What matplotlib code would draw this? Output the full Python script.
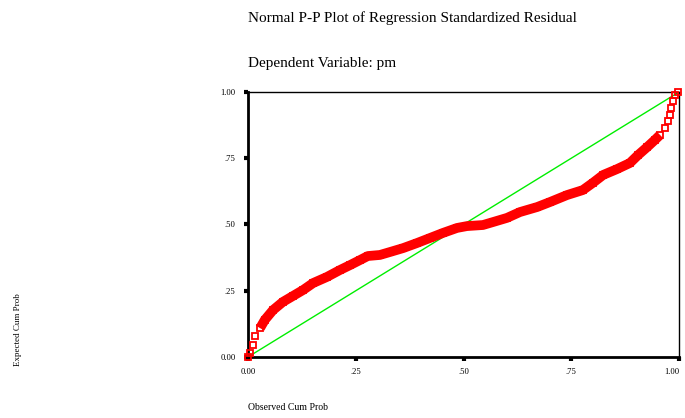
import matplotlib
matplotlib.use("Agg")
import matplotlib.pyplot as plt

# observed vs expected cumulative probabilities
observed = [0.000, 0.005, 0.011, 0.016, 0.028, 0.039, 0.058, 0.081, 0.104, 0.128,
            0.151, 0.183, 0.213, 0.237, 0.260, 0.278, 0.306, 0.329, 0.360, 0.392,
            0.422, 0.452, 0.485, 0.508, 0.545, 0.568, 0.601, 0.631, 0.671, 0.701,
            0.740, 0.777, 0.800, 0.824, 0.856, 0.886, 0.905, 0.926, 0.944, 0.956,
            0.968, 0.974, 0.979, 0.981, 0.986, 0.991, 0.998]
expected = [0.000, 0.015, 0.045, 0.079, 0.109, 0.140, 0.177, 0.208, 0.230, 0.253,
            0.279, 0.302, 0.328, 0.347, 0.366, 0.381, 0.385, 0.396, 0.411, 0.430,
            0.449, 0.468, 0.487, 0.494, 0.498, 0.509, 0.525, 0.547, 0.566, 0.585,
            0.611, 0.630, 0.657, 0.687, 0.709, 0.732, 0.762, 0.792, 0.819, 0.838,
            0.864, 0.891, 0.913, 0.940, 0.966, 0.989, 1.000]

ticks = [0, 0.25, 0.5, 0.75, 1.0]
xlabels = ["0.00", ".25", ".50", ".75", "1.00"]
ylabels = ["0.00", ".25", ".50", ".75", "1.00"]

serif = "Liberation Serif"

fig = plt.figure(figsize=(6.85, 4.18), dpi=100)
ax = fig.add_axes([248 / 685, 61 / 418, 431 / 685, 265 / 418])

# dense middle part looks like a solid band
ax.plot(observed[4:40], expected[4:40], color="red", lw=7, solid_capstyle="butt", zorder=2)
ax.plot(observed, expected, ls="none", marker="s", ms=5, mfc="none", mec="red", mew=1.3,
        clip_on=False, zorder=3)
ax.plot([0, 1], [0, 1], color="#00ee00", lw=1, zorder=1)

ax.set_xlim(0, 1)
ax.set_ylim(0, 1)
ax.set_xticks(ticks)
ax.set_yticks(ticks)
ax.set_xticklabels(xlabels, fontfamily=serif, fontsize=6.2)
ax.set_yticklabels(ylabels, fontfamily=serif, fontsize=6.2)
ax.get_xticklabels()[-1].set_ha("right")
ax.tick_params(direction="out", length=3, width=3, color="black", pad=5)
ax.tick_params(axis="y", pad=6)

for s in ["left", "bottom"]:
    ax.spines[s].set_linewidth(2)
for s in ["top", "right"]:
    ax.spines[s].set_linewidth(1)

fig.text(248 / 685, 1 - 18 / 418, "Normal P-P Plot of Regression Standardized Residual",
         fontfamily=serif, fontsize=11, va="center", ha="left")
fig.text(248 / 685, 1 - 63 / 418, "Dependent Variable: pm",
         fontfamily=serif, fontsize=11, va="center", ha="left")
fig.text(248 / 685, 1 - 408 / 418, "Observed Cum Prob",
         fontfamily=serif, fontsize=7, va="center", ha="left")
fig.text(18 / 685, 1 - 330 / 418, "Expected Cum Prob", rotation=90,
         fontfamily=serif, fontsize=6.5, va="center", ha="center")

fig.savefig("out.png", dpi=100)
